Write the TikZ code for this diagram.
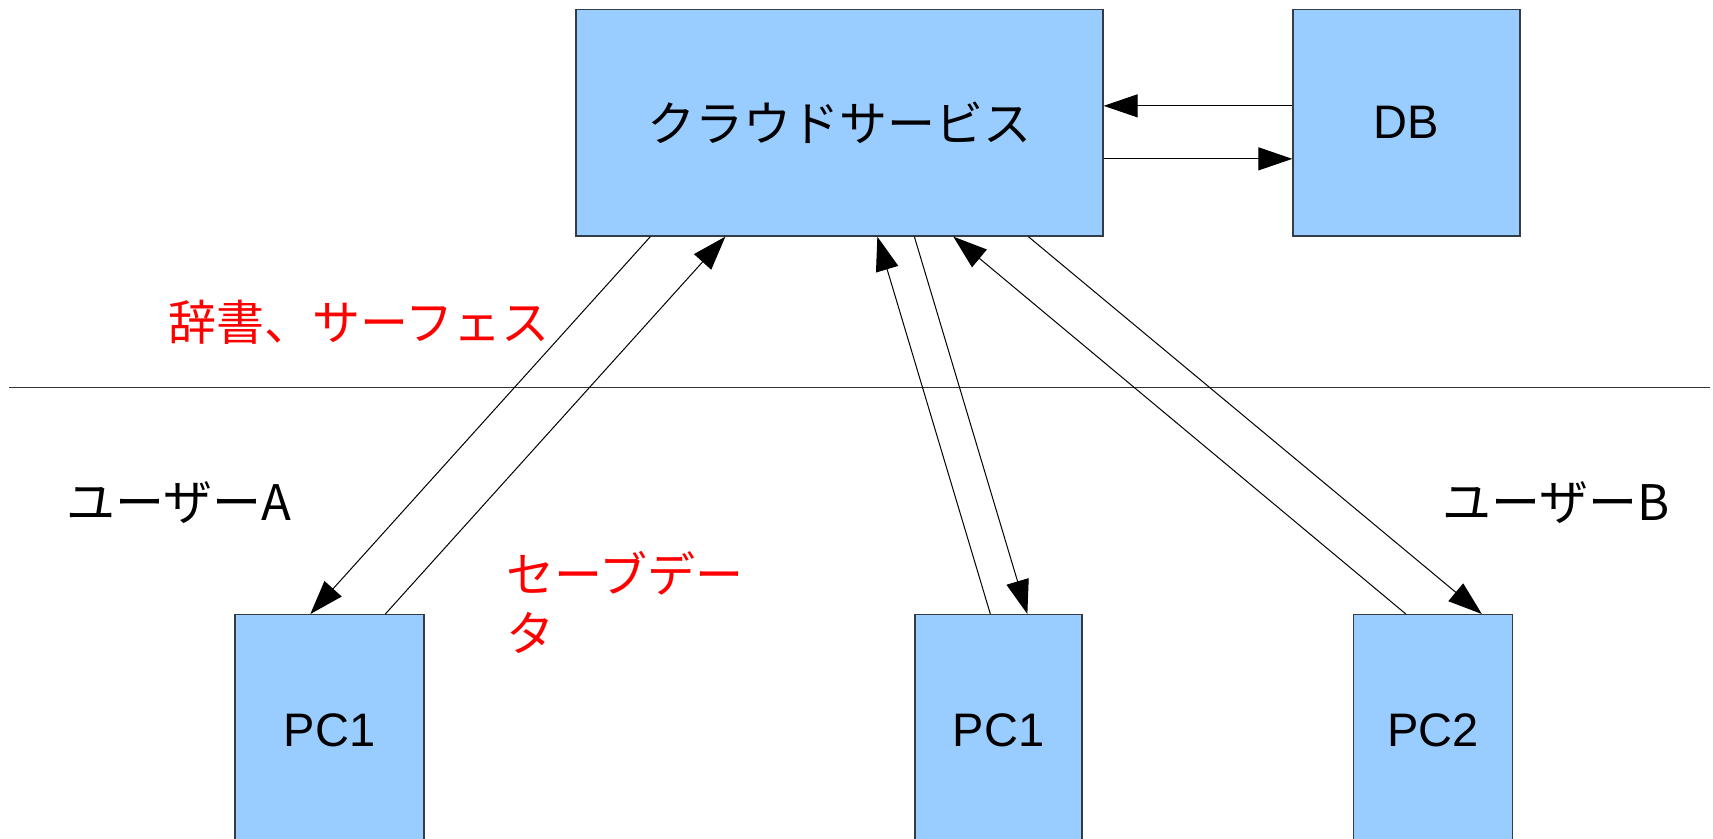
\documentclass[tikz,border=0pt]{standalone}
\usepackage{fontspec}
\setmainfont{Liberation Sans}
\newfontfamily\jpfont{Noto Sans CJK JP}
\usetikzlibrary{arrows.meta,calc}

\definecolor{boxfill}{HTML}{99CCFF}
\definecolor{boxline}{HTML}{343C46}
\definecolor{notered}{HTML}{FF0000}

\tikzset{
  machine/.style={draw=boxline,line width=1.3pt,fill=boxfill,inner sep=0pt,
    font=\fontsize{47}{56}\selectfont},
  flow/.style={-{Triangle[length=34pt,width=23pt]},line width=1pt},
  note/.style={text=notered,inner sep=0pt,align=left,
    font=\fontsize{48}{59}\selectfont\jpfont},
  who/.style={inner sep=0pt,font=\fontsize{49}{56}\selectfont\jpfont}
}

\begin{document}
\begin{tikzpicture}[x=1pt,y=-1pt]
% Page
\useasboundingbox (0,0) rectangle (1713,838);
\clip (0,0) rectangle (1713,838);

% Boxes
\node[machine,minimum width=527pt,minimum height=226.5pt] (cloud) at (839.5,122.75) {\fontsize{48}{56}\selectfont\jpfont クラウドサービス};
\node[machine,minimum width=227pt,minimum height=226.5pt] (db) at (1406.5,122.75) {DB};
\node[machine,anchor=north,minimum width=189pt,minimum height=232pt] (pcA) at (329.5,614) {PC1};
\node[machine,anchor=north,minimum width=167pt,minimum height=232pt] (pcB1) at (998.5,614) {PC1};
\node[machine,anchor=north,minimum width=159pt,minimum height=232pt] (pcB2) at (1433,614) {PC2};

% Separator
\coordinate (sepL) at (9,387);
\coordinate (sepR) at (1710,387);
\draw[line width=1pt,black!80] (sepL) -- (sepR);

% Labels
\node[note,anchor=west] (dict) at (168,322) {辞書、サーフェス};
\node[note,anchor=north west] (save) at (506,551) {セーブデー\\タ};
\node[who,anchor=west] (userA) at (66,503) {ユーザーA};
\node[who,anchor=west] (userB) at (1442,503) {ユーザーB};

% Cloud <-> DB
\draw[flow] ($(db.north west)+(0,97)$) -- ($(cloud.north east)+(0,97)$);
\draw[flow] ($(cloud.north east)+(0,150)$) -- ($(db.north west)+(0,150)$);

% Cloud <-> PCs
\draw[flow] ($(cloud.south west)+(75,0)$) -- ($(pcA.north west)+(76,0)$);
\draw[flow] ($(pcA.north west)+(151,0)$) -- ($(cloud.south west)+(150,0)$);
\draw[flow] ($(pcB1.north west)+(76,0)$) -- ($(cloud.south west)+(302,0)$);
\draw[flow] ($(cloud.south west)+(339,0)$) -- ($(pcB1.north west)+(113,0)$);
\draw[flow] ($(pcB2.north west)+(53,0)$) -- ($(cloud.south west)+(378,0)$);
\draw[flow] ($(cloud.south west)+(453,0)$) -- ($(pcB2.north west)+(129,0)$);
\end{tikzpicture}
\end{document}
